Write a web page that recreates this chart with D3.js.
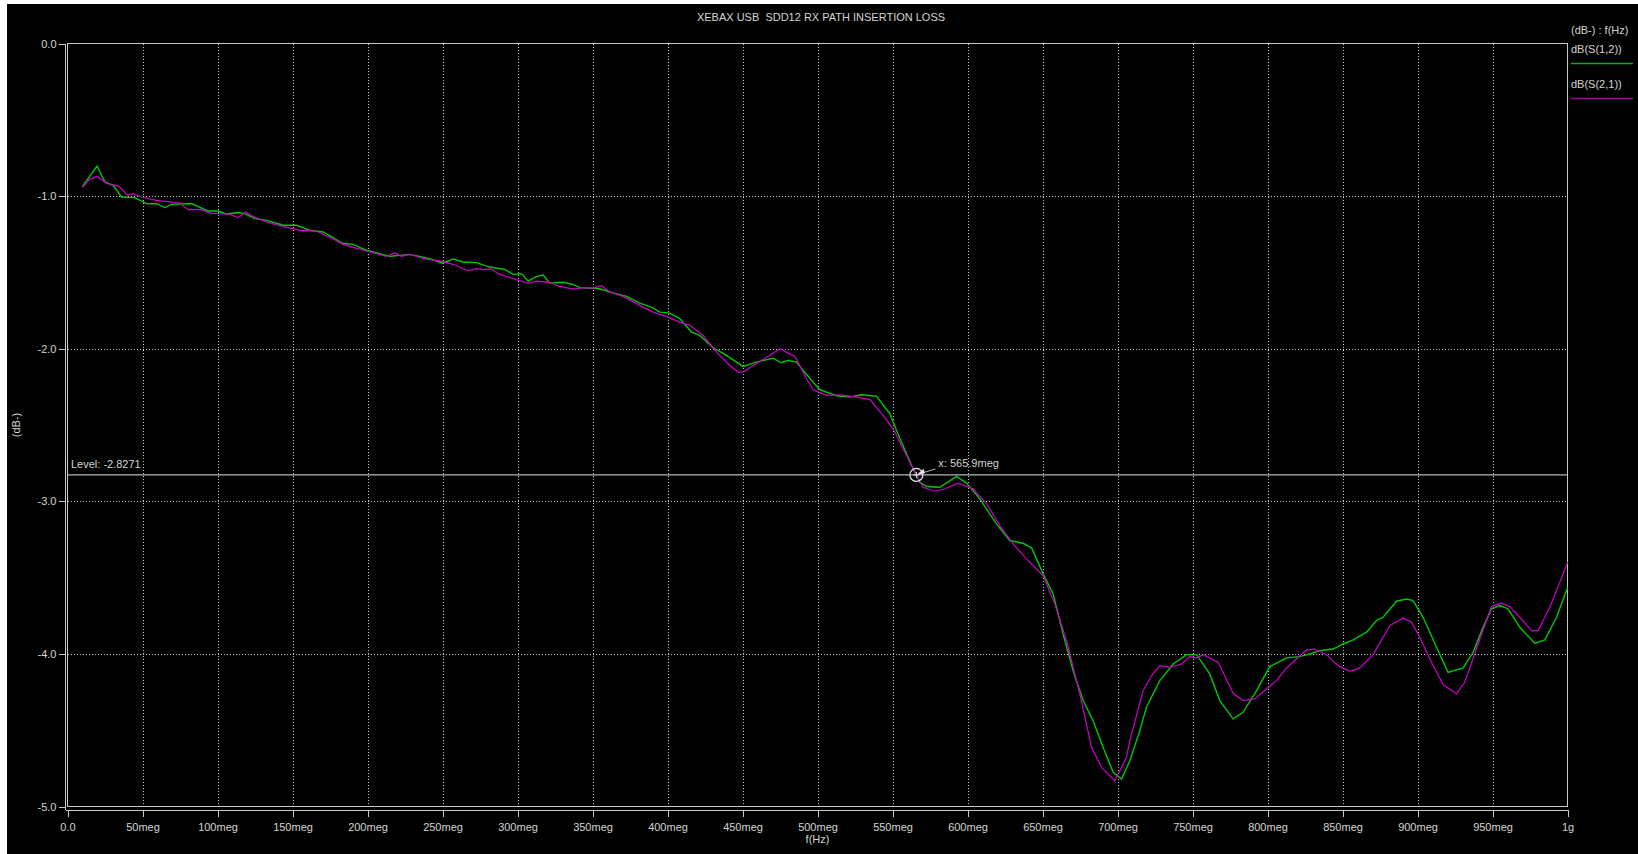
<!DOCTYPE html>
<html>
<head>
<meta charset="utf-8">
<script src="https://cdn.jsdelivr.net/npm/d3@7"></script>
<style>
  html, body { margin: 0; padding: 0; background: #ffffff; }
  svg { display: block; }
  text { font-family: "Liberation Sans", Arial, sans-serif; font-size: 11px; fill: #d4d4d4; white-space: pre; }
</style>
</head>
<body>
<svg id="chart" width="1638" height="854"></svg>
<script>
// Insertion loss sweep, dB vs frequency (MHz)
const titleText = "XEBAX USB  SDD12 RX PATH INSERTION LOSS";
const xTickValues = [0, 50, 100, 150, 200, 250, 300, 350, 400, 450, 500, 550, 600, 650, 700, 750, 800, 850, 900, 950, 1000];
const xTickLabels = ["0.0", "50meg", "100meg", "150meg", "200meg", "250meg", "300meg", "350meg", "400meg", "450meg", "500meg",
  "550meg", "600meg", "650meg", "700meg", "750meg", "800meg", "850meg", "900meg", "950meg", "1g"];
const yTickValues = [0, -1, -2, -3, -4, -5];
const yTickLabels = ["0.0", "-1.0", "-2.0", "-3.0", "-4.0", "-5.0"];
const seriesNames = ["dB(S(1,2))", "dB(S(2,1))"];
const levelValue = -2.8271;
const markerFreq = 565.9;

const s12Freq = [10, 19.7, 24.9, 30.4, 36, 44.9, 52.7, 59.3, 64.9, 69.3, 82.7, 93.7, 100.4, 106, 113.7, 118.2, 124.9, 132.7,
  143.7, 152.7, 161.5, 170.4, 183.7, 190.4, 199.3, 214.9, 228.2, 241.5, 250, 257.1, 263.7, 272.7, 281.5, 291.5, 297.1,
  302.7, 307.1, 312.7, 317.1, 321.5, 330.4, 337.1, 341.5, 354.9, 363.7, 372.7, 381.5, 389.3, 394.9, 401.5, 408.2, 416,
  421.5, 430.4, 439.3, 450.4, 459.3, 470.4, 475.9, 480.4, 486, 492.7, 501.5, 512.7, 521.5, 529.3, 539.3, 548.2, 552.7,
  562.7, 568.2, 572.7, 581.5, 592.7, 599.3, 608.2, 619.3, 628.2, 637.1, 642.7, 650.4, 657.1, 663.7, 670.4, 677.1, 683.7,
  690.4, 697.1, 702.7, 708.2, 714.9, 719.3, 728.2, 737.1, 746, 752.7, 761.5, 768.2, 777.1, 783.7, 792.7, 801.5, 812.7,
  821.5, 828.2, 834.9, 843.7, 850.4, 857.1, 866, 872.7, 877.1, 886, 892.7, 897.1, 903.7, 912.7, 920.4, 930.4, 937.1,
  943.7, 949.3, 954.9, 960.4, 968.2, 978.2, 984.9, 992.7, 1000];
const s12dB = [-0.936, -0.803, -0.907, -0.929, -1.006, -1.010, -1.049, -1.05, -1.075, -1.054, -1.049, -1.098, -1.098, -1.119,
  -1.108, -1.115, -1.148, -1.159, -1.191, -1.191, -1.224, -1.235, -1.311, -1.316, -1.355, -1.395, -1.382, -1.41, -1.44,
  -1.412, -1.432, -1.436, -1.465, -1.48, -1.513, -1.508, -1.557, -1.526, -1.517, -1.57, -1.565, -1.578, -1.6, -1.607,
  -1.635, -1.657, -1.701, -1.727, -1.76, -1.767, -1.803, -1.891, -1.913, -1.993, -2.044, -2.116, -2.088, -2.062, -2.092,
  -2.077, -2.088, -2.169, -2.269, -2.308, -2.317, -2.302, -2.311, -2.426, -2.536, -2.765, -2.875, -2.903, -2.908, -2.837,
  -2.881, -2.984, -3.148, -3.257, -3.275, -3.305, -3.475, -3.607, -3.869, -4.11, -4.306, -4.437, -4.612, -4.776, -4.82,
  -4.7, -4.503, -4.35, -4.175, -4.066, -4.005, -4.005, -4.131, -4.306, -4.426, -4.383, -4.241, -4.083, -4.026, -4.018,
  -4.0, -3.979, -3.968, -3.935, -3.908, -3.858, -3.782, -3.76, -3.655, -3.64, -3.651, -3.76, -3.957, -4.121, -4.092,
  -3.99, -3.826, -3.705, -3.683, -3.705, -3.826, -3.93, -3.908, -3.76, -3.566];

const s21Freq = [10, 14.4, 19.7, 25.5, 34.4, 40, 43.7, 49.3, 59.3, 74.9, 80.4, 89.3, 94.9, 108.2, 113.7, 118.9, 123.7, 132.7,
  143.7, 154.9, 165.9, 177, 183.7, 199.3, 212.7, 218.2, 222.7, 228.2, 239.3, 248.2, 257.1, 267.1, 272.7, 277.1, 282.7,
  287.1, 299.3, 307.1, 312.7, 321.5, 328.2, 337.1, 343.7, 350.4, 356, 361.5, 370.4, 381.5, 390.4, 399.3, 408.2, 414.9,
  423.7, 432.7, 441.5, 447.1, 450.4, 457.1, 467.1, 474.9, 480.4, 484.9, 492.7, 497.1, 506, 514.9, 526, 534.9, 543.7,
  550.4, 562.7, 570.4, 578.2, 584.9, 593.7, 603.7, 612.7, 621.5, 630.4, 639.3, 650.4, 658.2, 666, 674.9, 682.7, 689.3,
  698.2, 706, 708.2, 717.1, 722.7, 728.2, 734.9, 742.7, 748.2, 752.7, 757.1, 767.1, 777.1, 783.7, 791.5, 799.3, 806,
  812.7, 819.3, 826, 831.5, 839.3, 847.1, 854.9, 861.5, 870.4, 881.5, 890.4, 896, 901.5, 909.3, 917.1, 926, 931.5,
  940.4, 949.3, 956, 961.5, 968.2, 976, 980.4, 988.2, 994.9, 1000];
const s21dB = [-0.944, -0.892, -0.87, -0.914, -0.936, -0.995, -0.984, -1.006, -1.028, -1.045, -1.089, -1.087, -1.111, -1.119,
  -1.141, -1.104, -1.133, -1.17, -1.198, -1.224, -1.229, -1.279, -1.316, -1.36, -1.395, -1.373, -1.395, -1.382, -1.414,
  -1.425, -1.447, -1.489, -1.475, -1.482, -1.478, -1.508, -1.548, -1.57, -1.557, -1.565, -1.592, -1.609, -1.6, -1.603,
  -1.587, -1.629, -1.657, -1.716, -1.76, -1.788, -1.826, -1.847, -1.913, -2.022, -2.11, -2.153, -2.153, -2.11, -2.051,
  -2.0, -2.029, -2.049, -2.197, -2.269, -2.306, -2.302, -2.317, -2.334, -2.437, -2.525, -2.765, -2.908, -2.934, -2.918,
  -2.881, -2.918, -3.016, -3.159, -3.279, -3.377, -3.487, -3.672, -3.913, -4.262, -4.612, -4.744, -4.831, -4.678, -4.568,
  -4.241, -4.142, -4.077, -4.088, -4.066, -4.018, -4.026, -4.005, -4.055, -4.258, -4.306, -4.295, -4.23, -4.175, -4.092,
  -4.033, -3.974, -3.968, -4.005, -4.077, -4.114, -4.092, -4.005, -3.815, -3.764, -3.793, -3.891, -4.055, -4.201, -4.262,
  -4.186, -3.935, -3.69, -3.668, -3.69, -3.76, -3.847, -3.847, -3.694, -3.531, -3.40];

const svg = d3.select("#chart");
const W = 1638, H = 854;
const plot = { left: 67.5, right: 1567.5, top: 43.5, bottom: 806.5 };

// black canvas of the analyzer window
svg.append("rect").attr("x", 7).attr("y", 4).attr("width", W - 7).attr("height", H - 4).attr("fill", "#000");

const x = d3.scaleLinear().domain([0, 1000]).range([plot.left, plot.right]);
const y = d3.scaleLinear().domain([-5, 0]).range([plot.bottom, plot.top]);

// dotted grid
const grid = svg.append("g").attr("shape-rendering", "crispEdges");
grid.append("g")
  .attr("transform", `translate(0,${plot.bottom})`)
  .call(d3.axisBottom(x).tickValues(xTickValues.slice(1, -1)).tickSize(-(plot.bottom - plot.top)).tickFormat(""))
  .call(g => g.select(".domain").remove())
  .call(g => g.selectAll("line").attr("stroke", "#c8c8c8").attr("stroke-dasharray", "1,2"));
grid.append("g")
  .attr("transform", `translate(${plot.left},0)`)
  .call(d3.axisLeft(y).tickValues(yTickValues.slice(1, -1)).tickSize(-(plot.right - plot.left)).tickFormat(""))
  .call(g => g.select(".domain").remove())
  .call(g => g.selectAll("line").attr("stroke", "#c8c8c8").attr("stroke-dasharray", "1,2"));

// plot frame
svg.append("rect")
  .attr("x", plot.left).attr("y", plot.top)
  .attr("width", plot.right - plot.left).attr("height", plot.bottom - plot.top)
  .attr("fill", "none").attr("stroke", "#c8c8c8").attr("shape-rendering", "crispEdges");

// axes (offset from the frame, giving the double rule)
const xAxis = svg.append("g")
  .attr("transform", `translate(0,${plot.bottom + 3})`)
  .attr("shape-rendering", "crispEdges")
  .call(d3.axisBottom(x).tickValues(xTickValues).tickSizeOuter(0).tickSize(7).tickPadding(7)
    .tickFormat((d, i) => xTickLabels[i]));
xAxis.select(".domain").attr("stroke", "#c8c8c8").attr("d", `M${plot.left - 2},0.5H${plot.right}`);
xAxis.selectAll("line").attr("stroke", "#c8c8c8");
xAxis.selectAll("text").attr("fill", "#d4d4d4").style("font-family", "Liberation Sans, Arial, sans-serif").style("font-size", "11px");

const yAxis = svg.append("g")
  .attr("transform", `translate(${plot.left - 2},0)`)
  .attr("shape-rendering", "crispEdges")
  .call(d3.axisLeft(y).tickValues(yTickValues).tickSizeOuter(0).tickSize(7).tickPadding(2)
    .tickFormat((d, i) => yTickLabels[i]));
yAxis.select(".domain").attr("stroke", "#c8c8c8").attr("d", `M-0.5,${plot.top}V${plot.bottom + 3}`);
yAxis.selectAll("line").attr("stroke", "#c8c8c8");
yAxis.selectAll("text").attr("fill", "#d4d4d4").style("font-family", "Liberation Sans, Arial, sans-serif").style("font-size", "11px");

// titles
svg.append("text").attr("x", 821).attr("y", 21).attr("text-anchor", "middle").text(titleText);
svg.append("text").attr("x", x(500)).attr("y", 843).attr("text-anchor", "middle").text("f(Hz)");
svg.append("text").attr("transform", `translate(20,${(plot.top + plot.bottom) / 2}) rotate(-90)`)
  .attr("text-anchor", "middle").text("(dB-)");

// level cursor
svg.append("line")
  .attr("x1", plot.left).attr("x2", plot.right)
  .attr("y1", y(levelValue)).attr("y2", y(levelValue))
  .attr("stroke", "#b4b4b4").attr("stroke-width", 1.2);
svg.append("text").attr("x", 71).attr("y", y(levelValue) - 7).text("Level: " + levelValue.toFixed(4));

// traces
const line = d3.line().x(d => x(d[0])).y(d => y(d[1]));
const s12 = s12Freq.map((f, i) => [f, s12dB[i]]);
const s21 = s21Freq.map((f, i) => [f, s21dB[i]]);
svg.append("path").datum(s12).attr("d", line).attr("fill", "none").attr("stroke", "#00c800").attr("stroke-width", 1.4);
svg.append("path").datum(s21).attr("d", line).attr("fill", "none").attr("stroke", "#cc00cc").attr("stroke-width", 1.2);

// x cursor marker
const mx = x(markerFreq), my = y(levelValue);
const mk = svg.append("g").attr("fill", "none").attr("stroke", "#e8e8e8");
mk.append("circle").attr("cx", mx).attr("cy", my).attr("r", 6.5).attr("stroke-width", 1.2);
mk.append("path").attr("d", `M${mx - 3},${my}H${mx + 3}M${mx},${my - 3}V${my + 3}`).attr("stroke-width", 1);
mk.append("path").attr("d", `M${mx + 3},${my - 1}L${mx + 19},${my - 6}`).attr("stroke", "#b4b4b4");
mk.append("path").attr("d", `M${mx + 2},${my - 1}l5,-4.5l1,3.5z`).attr("fill", "#e8e8e8");
svg.append("text").attr("x", mx + 22).attr("y", my - 8).text("x: " + markerFreq.toFixed(1) + "meg");

// legend
const legend = svg.append("g");
legend.append("text").attr("x", 1571).attr("y", 34).text("(dB-) : f(Hz)");
const legendColors = ["#00b400", "#9a009a"];
seriesNames.forEach((name, i) => {
  const ly = 53 + i * 35;
  legend.append("text").attr("x", 1571).attr("y", ly).text(name);
  legend.append("line").attr("x1", 1571).attr("x2", 1633).attr("y1", ly + 10.5).attr("y2", ly + 10.5)
    .attr("stroke", legendColors[i]).attr("stroke-width", 1.5);
});
</script>
</body>
</html>
